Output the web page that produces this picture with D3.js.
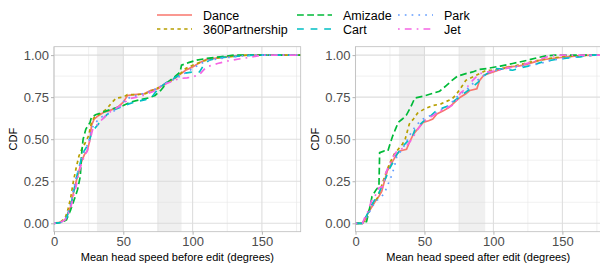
<!DOCTYPE html>
<html>
<head>
<meta charset="utf-8">
<script src="https://cdn.jsdelivr.net/npm/d3@7"></script>
<style>
body { margin:0; background:white; }
text { font-family: Arial, "Liberation Sans", sans-serif; }
</style>
</head>
<body>
<div id="chart"></div>
<script>

var width = 600
var height = 267

// series (legend filled column-wise)
var seriesNames = ["Dance", "360Partnership", "Amizade", "Cart", "Park", "Jet"]
var seriesColors = ["#F8766D", "#B79F00", "#00BA38", "#00BFC4", "#619CFF", "#F564E3"]
var seriesDash = [null, "3.4,3.4", "6.8,3.4", "6.8,6.8", "1.7,5.1", "1.7,5.1,6.8,5.1"]

var xTicks = [0, 50, 100, 150]
var yTicks = [0, 0.25, 0.5, 0.75, 1]
var yTickLabels = ["0.00", "0.25", "0.50", "0.75", "1.00"]
var xDomain = [0, 178]

// shaded speed bands
var bandsBefore = [[31, 50], [74.5, 92]]
var bandsAfter = [[31.5, 50], [75, 94]]

// ECDF points: before edit
var beforeDance = [[0,0],[4,0.005],[8,0.02],[10,0.06],[12,0.1],[14,0.18],[16,0.25],[18,0.31],[20,0.37],[22,0.41],[24,0.43],[26,0.5],[27,0.58],[29,0.62],[32,0.64],[36,0.66],[40,0.67],[46,0.69],[50,0.72],[53,0.76],[58,0.765],[65,0.77],[70,0.79],[75,0.8],[80,0.83],[85,0.85],[90,0.88],[95,0.91],[100,0.93],[105,0.955],[110,0.975],[120,0.985],[130,0.995],[140,1],[178,1]]
var before360 = [[0,0],[5,0.01],[8,0.03],[10,0.08],[12,0.15],[14,0.25],[16,0.33],[18,0.4],[20,0.44],[22,0.47],[25,0.52],[27,0.6],[29,0.63],[33,0.65],[38,0.68],[42,0.72],[45,0.745],[50,0.75],[53,0.765],[60,0.765],[66,0.77],[72,0.795],[78,0.815],[85,0.85],[90,0.88],[95,0.92],[100,0.94],[108,0.965],[115,0.98],[125,0.99],[140,1],[178,1]]
var beforeAmizade = [[0,0],[5,0.005],[9,0.02],[12,0.08],[15,0.15],[17,0.2],[19,0.28],[20,0.42],[21,0.5],[23,0.56],[26,0.6],[27,0.63],[30,0.645],[35,0.66],[42,0.68],[50,0.7],[55,0.72],[62,0.735],[68,0.745],[73,0.76],[77,0.79],[82,0.84],[87,0.87],[91,0.9],[92,0.94],[97,0.955],[103,0.97],[110,0.98],[120,0.99],[130,1],[178,1]]
var beforeCart = [[0,0],[5,0.005],[9,0.03],[11,0.08],[13,0.14],[15,0.22],[17,0.3],[19,0.36],[21,0.42],[24,0.46],[27,0.53],[29,0.56],[31,0.58],[34,0.61],[38,0.645],[42,0.67],[48,0.69],[54,0.71],[60,0.725],[66,0.735],[71,0.755],[75,0.8],[80,0.83],[86,0.86],[92,0.89],[100,0.9],[105,0.9],[108,0.94],[112,0.97],[120,0.985],[135,0.995],[145,1],[178,1]]
var beforePark = [[0,0],[5,0.005],[8,0.02],[10,0.06],[12,0.11],[14,0.2],[16,0.27],[18,0.33],[20,0.39],[22,0.43],[25,0.48],[27,0.56],[30,0.6],[34,0.63],[38,0.65],[42,0.66],[47,0.69],[52,0.74],[58,0.755],[64,0.77],[70,0.785],[76,0.81],[82,0.84],[88,0.86],[94,0.89],[100,0.92],[106,0.95],[112,0.97],[120,0.98],[135,0.995],[145,1],[178,1]]
var beforeJet = [[0,0],[4,0.005],[8,0.02],[10,0.05],[12,0.09],[14,0.16],[16,0.22],[18,0.3],[20,0.36],[22,0.4],[24,0.43],[26,0.5],[28,0.56],[31,0.585],[35,0.62],[40,0.66],[45,0.685],[50,0.71],[54,0.74],[60,0.75],[66,0.765],[72,0.785],[78,0.82],[84,0.84],[90,0.86],[96,0.865],[100,0.87],[105,0.885],[110,0.93],[118,0.95],[128,0.97],[140,0.985],[150,1],[178,1]]

// ECDF points: after edit
var afterDance = [[0,0],[5,0],[7,0.02],[9,0.06],[12,0.1],[15,0.14],[17,0.16],[19,0.19],[21,0.25],[23,0.31],[25,0.34],[27,0.37],[30,0.41],[32,0.43],[37,0.44],[39,0.48],[42,0.53],[46,0.57],[49,0.6],[53,0.61],[56,0.62],[59,0.65],[64,0.67],[68,0.69],[72,0.72],[76,0.75],[80,0.77],[83,0.79],[88,0.8],[90,0.85],[93,0.88],[100,0.9],[105,0.915],[110,0.93],[118,0.935],[124,0.945],[130,0.96],[134,0.97],[142,0.98],[153,0.99],[165,0.998],[175,1],[178,1]]
var after360 = [[0,0],[5,0],[7,0.02],[9,0.06],[11,0.1],[13,0.12],[16,0.15],[18,0.2],[20,0.25],[23,0.32],[25,0.36],[28,0.41],[31,0.44],[34,0.47],[36,0.5],[39,0.59],[42,0.62],[45,0.655],[50,0.68],[56,0.7],[62,0.71],[66,0.725],[70,0.74],[73,0.765],[76,0.8],[80,0.85],[85,0.87],[90,0.89],[95,0.91],[100,0.91],[110,0.925],[120,0.945],[130,0.965],[140,0.98],[150,0.99],[160,0.995],[172,1],[178,1]]
var afterAmizade = [[0,0],[5,0],[8,0.01],[10,0.08],[12,0.16],[15,0.2],[17,0.22],[17.5,0.42],[21,0.43],[23.5,0.43],[25,0.47],[27,0.52],[29,0.56],[31,0.6],[34,0.62],[37,0.645],[40,0.69],[43,0.745],[49,0.755],[55,0.77],[61,0.785],[66,0.82],[70,0.85],[74,0.875],[80,0.89],[85,0.9],[90,0.915],[95,0.92],[105,0.935],[114,0.95],[125,0.97],[132,0.985],[138,0.995],[145,1],[178,1]]
var afterCart = [[0,0],[5,0],[7,0.03],[9,0.06],[11,0.1],[14,0.14],[17,0.18],[20,0.24],[22,0.27],[25,0.33],[27,0.36],[30,0.41],[34,0.455],[38,0.49],[41,0.51],[43,0.555],[46,0.58],[49,0.605],[54,0.635],[58,0.665],[63,0.685],[68,0.7],[72,0.73],[76,0.755],[80,0.78],[85,0.81],[89,0.84],[92,0.87],[97,0.9],[102,0.92],[108,0.915],[114,0.91],[120,0.925],[128,0.94],[134,0.955],[139,0.965],[146,0.975],[153,0.982],[163,0.99],[172,1],[178,1]]
var afterPark = [[0,0],[5,0],[7,0.02],[9,0.05],[11,0.08],[13,0.11],[16,0.14],[19,0.16],[21,0.18],[23,0.22],[26,0.28],[28,0.33],[30,0.4],[33,0.43],[36,0.47],[39,0.52],[42,0.56],[46,0.6],[49,0.62],[54,0.64],[59,0.66],[64,0.685],[68,0.7],[72,0.74],[76,0.77],[80,0.79],[85,0.83],[90,0.86],[95,0.89],[100,0.905],[108,0.92],[115,0.93],[122,0.935],[128,0.94],[134,0.95],[140,0.965],[150,0.98],[160,0.99],[172,1],[178,1]]
var afterJet = [[0,0],[5,0],[7,0.04],[9,0.07],[11,0.12],[12,0.14],[14,0.16],[17,0.21],[20,0.22],[22,0.3],[24,0.34],[27,0.39],[30,0.43],[34,0.445],[37,0.46],[41,0.5],[44,0.545],[47,0.58],[51,0.615],[56,0.64],[61,0.665],[66,0.685],[71,0.705],[74,0.74],[76,0.775],[80,0.8],[85,0.85],[90,0.89],[96,0.9],[104,0.91],[112,0.925],[120,0.94],[128,0.96],[134,0.975],[139,0.99],[146,1],[178,1]]

var panels = [
	{ left: 54, right: 300.7, title: "Mean head speed before edit (degrees)", bands: bandsBefore,
	  series: [beforeDance, before360, beforeAmizade, beforeCart, beforePark, beforeJet] },
	{ left: 355.5, right: 601, title: "Mean head speed after edit (degrees)", bands: bandsAfter,
	  series: [afterDance, after360, afterAmizade, afterCart, afterPark, afterJet] }
]
var plotTop = 46.7, plotBottom = 231.7

var svg = d3.select('#chart').append("svg")
	.attr("width", width)
	.attr("height", height)

var y = d3.scaleLinear().domain([-0.05, 1.05]).range([plotBottom, plotTop])

panels.forEach(function(p, pi) {
	var x = d3.scaleLinear().domain(xDomain).range([p.left, p.right])
	var g = svg.append("g")

	g.append("clipPath").attr("id", "clip" + pi)
		.append("rect").attr("x", p.left).attr("y", plotTop)
		.attr("width", p.right - p.left).attr("height", plotBottom - plotTop)

	// minor grid
	var xMinor = [25, 75, 125, 175]
	var yMinor = [0.125, 0.375, 0.625, 0.875]
	g.selectAll(".xminor").data(xMinor).enter().append("line")
		.attr("x1", d => x(d)).attr("x2", d => x(d)).attr("y1", plotTop).attr("y2", plotBottom)
		.attr("stroke", "#e6e6e6").attr("stroke-width", 0.6)
	g.selectAll(".yminor").data(yMinor).enter().append("line")
		.attr("y1", d => y(d)).attr("y2", d => y(d)).attr("x1", p.left).attr("x2", p.right)
		.attr("stroke", "#e6e6e6").attr("stroke-width", 0.6)
	// major grid
	g.selectAll(".xmajor").data(xTicks).enter().append("line")
		.attr("x1", d => x(d)).attr("x2", d => x(d)).attr("y1", plotTop).attr("y2", plotBottom)
		.attr("stroke", "#dedede").attr("stroke-width", 1.1)
	g.selectAll(".ymajor").data(yTicks).enter().append("line")
		.attr("y1", d => y(d)).attr("y2", d => y(d)).attr("x1", p.left).attr("x2", p.right)
		.attr("stroke", "#dedede").attr("stroke-width", 1.1)

	// shaded bands
	g.selectAll(".band").data(p.bands).enter().append("rect")
		.attr("x", d => x(d[0])).attr("width", d => x(d[1]) - x(d[0]))
		.attr("y", plotTop).attr("height", plotBottom - plotTop)
		.attr("fill", "#d4d4d4").attr("opacity", 0.35)

	// ECDF lines
	var line = d3.line().x(d => x(d[0])).y(d => y(d[1]))
	g.append("g").attr("clip-path", "url(#clip" + pi + ")")
		.selectAll("path").data(p.series).enter().append("path")
		.attr("d", line)
		.attr("fill", "none")
		.attr("stroke", (d, i) => seriesColors[i])
		.attr("stroke-width", 1.7)
		.attr("stroke-dasharray", (d, i) => seriesDash[i])

	// border
	g.append("rect").attr("x", p.left).attr("y", plotTop)
		.attr("width", p.right - p.left).attr("height", plotBottom - plotTop)
		.attr("fill", "none").attr("stroke", "#bdbdbd").attr("stroke-width", 0.8)

	// axes
	var xAxis = g.append("g").attr("transform", "translate(0," + plotBottom + ")")
		.call(d3.axisBottom(x).tickValues(xTicks).tickSize(3).tickPadding(2))
	var yAxis = g.append("g").attr("transform", "translate(" + p.left + ",0)")
		.call(d3.axisLeft(y).tickValues(yTicks).tickSize(3).tickPadding(2)
			.tickFormat((d, i) => yTickLabels[i]))
	;[xAxis, yAxis].forEach(function(a) {
		a.select(".domain").remove()
		a.selectAll(".tick line").attr("stroke", "#b3b3b3")
		a.selectAll(".tick text").attr("fill", "#4d4d4d")
			.style("font-size", "13px").style("font-family", "Arial, 'Liberation Sans', sans-serif")
	})

	g.append("text").attr("x", (p.left + p.right) / 2).attr("y", 261)
		.attr("text-anchor", "middle").style("font-size", "11px").attr("fill", "#000")
		.text(p.title)
	g.append("text")
		.attr("transform", "translate(" + (p.left - 37) + "," + ((plotTop + plotBottom) / 2) + ") rotate(-90)")
		.attr("text-anchor", "middle").style("font-size", "11px").attr("fill", "#000")
		.text("CDF")
})

// legend
var legCols = [157, 297, 398]
var legRows = [15, 29]
var legend = svg.append("g")
seriesNames.forEach(function(name, i) {
	var cx = legCols[Math.floor(i / 2)]
	var cy = legRows[i % 2]
	legend.append("line").attr("x1", cx).attr("x2", cx + 35).attr("y1", cy).attr("y2", cy)
		.attr("stroke", seriesColors[i]).attr("stroke-width", 1.7)
		.attr("stroke-dasharray", seriesDash[i])
	legend.append("text").attr("x", cx + 46).attr("y", cy + 4.5)
		.style("font-size", "12.5px").attr("fill", "#000").text(name)
})

</script>
</body>
</html>
